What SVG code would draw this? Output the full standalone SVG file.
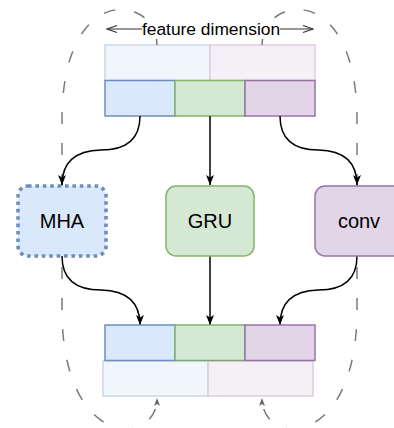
<svg xmlns="http://www.w3.org/2000/svg" width="394" height="428" viewBox="0 0 394 428">
<defs>
<style>
.t{font-family:"Liberation Sans",Arial,sans-serif;fill:#000;text-anchor:middle}
.conn{fill:none;stroke:#000;stroke-width:1.5}
.dash{fill:none;stroke:#7a7a7a;stroke-width:1.5;stroke-dasharray:12 19}
.blue{fill:#dae8fc;stroke:#6c8ebf;stroke-width:1.5}
.green{fill:#d5e8d4;stroke:#82b366;stroke-width:1.5}
.purple{fill:#e1d5e7;stroke:#9673a6;stroke-width:1.5}
</style>
<marker id="ah" markerUnits="userSpaceOnUse" markerWidth="12" markerHeight="10" viewBox="0 0 12 10" refX="11" refY="5" orient="auto">
<path d="M1,1 L11,5 L1,9 L3.5,5 Z" fill="#000"/>
</marker>
<marker id="ahg" markerUnits="userSpaceOnUse" markerWidth="10" markerHeight="8" viewBox="0 0 10 8" refX="9" refY="4" orient="auto">
<path d="M1,1 L9,4 L1,7 L3,4 Z" fill="#666"/>
</marker>
<marker id="open" markerUnits="userSpaceOnUse" markerWidth="12" markerHeight="10" viewBox="0 0 12 10" refX="11" refY="5" orient="auto">
<path d="M1,1.5 L11,5 L1,8.5" fill="none" stroke="#333" stroke-width="1.2"/>
</marker>
</defs>

<g id="dashed-loops">
<path class="dash" d="M157,45 C157,-5 62,-20 62,120 L62,310 C62,450 157,448 157,398" marker-end="url(#ahg)"/>
<path class="dash" d="M262,45 C262,-5 357,-20 357,120 L357,310 C357,450 262,448 262,398" marker-end="url(#ahg)"/>
</g>

<g id="feature-dimension">
<line x1="142" y1="29" x2="107" y2="29" stroke="#333" stroke-width="1.2" marker-end="url(#open)"/>
<line x1="280" y1="29" x2="313" y2="29" stroke="#333" stroke-width="1.2" marker-end="url(#open)"/>
<rect x="142" y="19" width="138" height="20" fill="#fff"/>
<text class="t" x="211" y="35" font-size="17.4">feature dimension</text>
</g>

<g id="input-light" opacity="0.35">
<rect class="blue" x="105" y="45" width="105" height="35.5"/>
<rect class="purple" x="210" y="45" width="105" height="35.5"/>
</g>

<g id="input-bar">
<rect class="blue" x="105" y="80.5" width="70" height="35.5"/>
<rect class="green" x="175" y="80.5" width="70" height="35.5"/>
<rect class="purple" x="245" y="80.5" width="70" height="35.5"/>
</g>

<g id="connectors">
<path class="conn" d="M140,116 Q140,150 101,150 Q62,151 62,185" marker-end="url(#ah)"/>
<path class="conn" d="M210,116 L210,185" marker-end="url(#ah)"/>
<path class="conn" d="M280,116 Q280,150 318.5,150 Q357,151 357,185" marker-end="url(#ah)"/>
<path class="conn" d="M62,256 Q62,290 101,290 Q140,291 140,325" marker-end="url(#ah)"/>
<path class="conn" d="M210,256 L210,325" marker-end="url(#ah)"/>
<path class="conn" d="M357,256 Q357,290 318.5,290 Q280,291 280,325" marker-end="url(#ah)"/>
</g>

<g id="MHA">
<rect x="18" y="186" width="88" height="70" rx="10" fill="#dae8fc" stroke="#6c8ebf" stroke-width="3.6" stroke-dasharray="3.6 3.8"/>
<text class="t" x="62" y="228" font-size="20">MHA</text>
</g>
<g id="GRU">
<rect class="green" x="166" y="186" width="88" height="70" rx="10"/>
<text class="t" x="210" y="228" font-size="20">GRU</text>
</g>
<g id="conv">
<rect class="purple" x="315" y="186" width="88" height="70" rx="10"/>
<text class="t" x="359" y="228" font-size="20">conv</text>
</g>

<g id="output-bar">
<rect class="blue" x="105" y="325" width="70" height="35.5"/>
<rect class="green" x="175" y="325" width="70" height="35.5"/>
<rect class="purple" x="245" y="325" width="70" height="35.5"/>
</g>

<g id="output-light" opacity="0.35">
<rect class="blue" x="103" y="361" width="105" height="35"/>
<rect class="purple" x="208" y="361" width="105" height="35"/>
</g>
</svg>
